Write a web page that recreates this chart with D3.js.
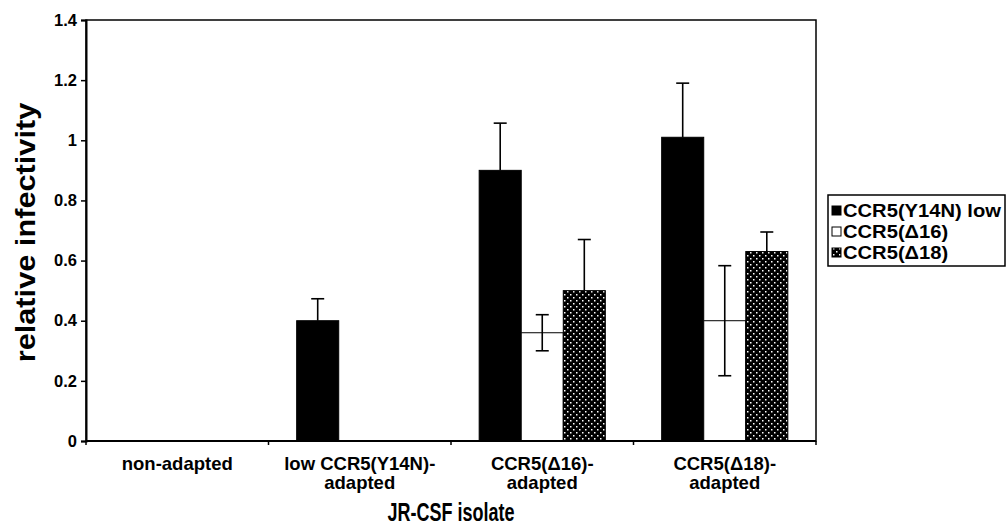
<!DOCTYPE html>
<html>
<head>
<meta charset="utf-8">
<script src="https://cdn.jsdelivr.net/npm/d3@7"></script>
<style>
  body { margin: 0; background: #fff; }
  svg { display: block; font-family: "Liberation Sans", Arial, sans-serif; }
</style>
</head>
<body>
<svg id="chart" width="1007" height="527"></svg>
<script>
const groups = [
  ['non-adapted'],
  ['low CCR5(Y14N)-', 'adapted'],
  ['CCR5(\u039416)-', 'adapted'],
  ['CCR5(\u039418)-', 'adapted'],
];
const seriesNames = ['CCR5(Y14N) low', 'CCR5(\u039416)', 'CCR5(\u039418)'];
// null = no bar drawn
const valuesY14N = [null, 0.40, 0.90, 1.01];
const valuesD16 = [null, null, 0.36, 0.40];
const valuesD18 = [null, null, 0.50, 0.63];
const errY14N = [null, 0.073, 0.157, 0.18];
const errD16 = [null, null, 0.06, 0.183];
const errD18 = [null, null, 0.17, 0.065];
const yTicks = [0, 0.2, 0.4, 0.6, 0.8, 1, 1.2, 1.4];

const series = [
  { name: seriesNames[0], values: valuesY14N, err: errY14N, fill: '#000', both: false },
  { name: seriesNames[1], values: valuesD16, err: errD16, fill: '#fff', both: true },
  { name: seriesNames[2], values: valuesD18, err: errD18, fill: 'url(#dots)', both: false },
];

const svg = d3.select('#chart');
const margin = { left: 86, top: 20, right: 191, bottom: 86 };
const width = 1007 - margin.left - margin.right;
const height = 527 - margin.top - margin.bottom;

const defs = svg.append('defs');
const pat = defs.append('pattern')
  .attr('id', 'dots')
  .attr('patternUnits', 'userSpaceOnUse')
  .attr('width', 6)
  .attr('height', 6);
pat.append('rect').attr('width', 6).attr('height', 6).attr('fill', '#000');
pat.append('rect').attr('x', 1).attr('y', 1).attr('width', 1.5).attr('height', 1.5).attr('fill', '#fff');
pat.append('rect').attr('x', 4).attr('y', 4).attr('width', 1.5).attr('height', 1.5).attr('fill', '#fff');

const g = svg.append('g').attr('transform', `translate(${margin.left},${margin.top})`);

const x0 = d3.scaleBand().domain(d3.range(groups.length)).range([0, width]);
const x1 = d3.scaleBand().domain(d3.range(series.length))
  .range([0, x0.bandwidth()]).paddingOuter(0.67);
const y = d3.scaleLinear().domain([0, 1.4]).range([height, 0]);

// frame
g.append('rect')
  .attr('width', width).attr('height', height)
  .attr('fill', 'none').attr('stroke', '#000').attr('stroke-width', 1.5);

// bars
series.forEach((s, si) => {
  const sg = g.append('g');
  s.values.forEach((v, gi) => {
    if (v === null) return;
    const bx = x0(gi) + x1(si);
    sg.append('rect')
      .attr('x', bx).attr('y', y(v))
      .attr('width', x1.bandwidth()).attr('height', y(0) - y(v))
      .attr('fill', s.fill).attr('stroke', '#000').attr('stroke-width', 1);
  });
});

// error bars
series.forEach((s, si) => {
  s.values.forEach((v, gi) => {
    if (v === null) return;
    const cx = x0(gi) + x1(si) + x1.bandwidth() / 2;
    const hi = v + s.err[gi];
    const lo = s.both ? v - s.err[gi] : v;
    const eb = g.append('g').attr('stroke', '#000').attr('stroke-width', 1.6);
    eb.append('line').attr('x1', cx).attr('x2', cx).attr('y1', y(lo)).attr('y2', y(hi));
    eb.append('line').attr('x1', cx - 6.5).attr('x2', cx + 6.5).attr('y1', y(hi)).attr('y2', y(hi));
    if (s.both) {
      eb.append('line').attr('x1', cx - 6.5).attr('x2', cx + 6.5).attr('y1', y(lo)).attr('y2', y(lo));
    }
  });
});

// y axis
const yAxis = g.append('g')
  .call(d3.axisLeft(y).tickValues(yTicks).tickSize(5).tickPadding(4).tickFormat(d3.format('')));
yAxis.select('.domain').attr('stroke-width', 2);
yAxis.selectAll('.tick line').attr('stroke-width', 1.5);
yAxis.selectAll('text').attr('font-size', 16.5).attr('font-weight', 'bold').attr('fill', '#000')
  .attr('font-family', 'Liberation Sans, Arial, sans-serif');

// x axis
const xAxis = g.append('g').attr('transform', `translate(0,${height})`);
xAxis.append('line').attr('x1', 0).attr('x2', width).attr('stroke', '#000').attr('stroke-width', 2);
xAxis.selectAll('.xt')
  .data(d3.range(groups.length + 1))
  .join('line')
  .attr('x1', d => d * x0.step()).attr('x2', d => d * x0.step())
  .attr('y1', 0).attr('y2', 4)
  .attr('stroke', '#000').attr('stroke-width', 1.5);

xAxis.selectAll('.xl')
  .data(groups)
  .join('text')
  .attr('text-anchor', 'middle')
  .attr('font-size', 18.5).attr('font-weight', 'bold')
  .attr('transform', (d, i) => `translate(${x0(i) + x0.bandwidth() / 2},29)`)
  .each(function (d) {
    d3.select(this).selectAll('tspan')
      .data(d)
      .join('tspan')
      .attr('x', 0)
      .attr('dy', (t, k) => k === 0 ? 0 : 19)
      .text(t => t);
  });

// axis titles
svg.append('text')
  .attr('transform', `translate(${margin.left + width / 2},521) scale(0.72,1)`)
  .attr('text-anchor', 'middle')
  .attr('font-size', 25).attr('font-weight', 'bold')
  .text('JR-CSF isolate');

svg.append('text')
  .attr('transform', `translate(35,${margin.top + height / 2 + 2}) rotate(-90) scale(1.06,0.94)`)
  .attr('text-anchor', 'middle')
  .attr('font-size', 29).attr('font-weight', 'bold')
  .text('relative infectivity');

// legend
const lg = svg.append('g').attr('transform', 'translate(828,195)');
lg.append('rect').attr('width', 177).attr('height', 71)
  .attr('fill', '#fff').attr('stroke', '#000').attr('stroke-width', 1.5);
series.forEach((s, i) => {
  const row = lg.append('g').attr('transform', `translate(4,${16 + i * 21})`);
  row.append('rect').attr('x', 0).attr('y', -5).attr('width', 9).attr('height', 9)
    .attr('fill', s.fill).attr('stroke', '#000').attr('stroke-width', 1);
  row.append('text').attr('transform', 'translate(11,6) scale(1.12,1)')
    .attr('font-size', 18).attr('font-weight', 'bold')
    .text(s.name);
});
</script>
</body>
</html>
